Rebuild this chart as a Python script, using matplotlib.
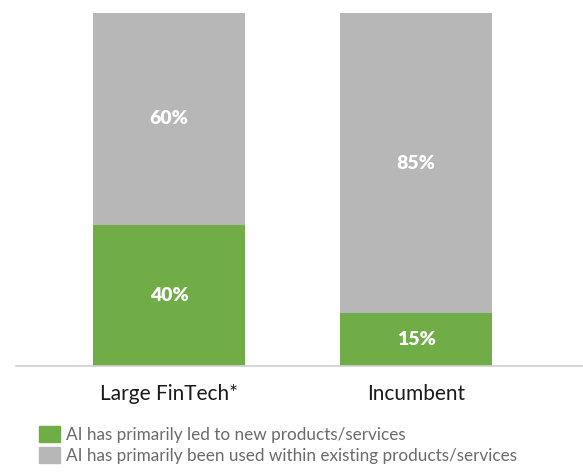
import matplotlib
matplotlib.use("Agg")
import matplotlib.pyplot as plt
from matplotlib.patches import Patch

categories = ["Large FinTech*", "Incumbent"]
new_products = [40, 15]
existing_products = [60, 85]
series_names = ["AI has primarily led to new products/services",
                "AI has primarily been used within existing products/services"]
green = "#70AD47"
gray = "#B7B7B7"

plt.rcParams['font.family'] = ['Lato', 'DejaVu Sans']

fig = plt.figure(figsize=(5.83, 4.72), dpi=100)
ax = fig.add_axes([16/583, 106/472, 567/583, 353/472])

x = [0, 1]
w = 152/247
ax.bar(x, new_products, width=w, color=green)
ax.bar(x, existing_products, width=w, bottom=new_products, color=gray)

for xi, a, b in zip(x, new_products, existing_products):
    ax.text(xi, a/2, f"{a}%", ha="center", va="center", color="white",
            fontsize=14, fontweight="heavy")
    ax.text(xi, a + b/2, f"{b}%", ha="center", va="center", color="white",
            fontsize=14, fontweight="heavy")

ax.set_xlim(-153/247, 1 + 167/247)
ax.set_ylim(0, 100)
for s in ["top", "right", "left"]:
    ax.spines[s].set_visible(False)
ax.spines["bottom"].set_color("#D0D0D0")
ax.spines["bottom"].set_linewidth(1.2)
ax.set_yticks([])
ax.set_xticks(x)
ax.set_xticklabels(categories, fontsize=15, color="#1a1a1a")
ax.tick_params(axis="x", length=0, pad=13)

handles = [Patch(color=green), Patch(color=gray)]
fig.legend(handles, series_names, loc="upper left", bbox_to_anchor=(39/583, 1 - 426/472),
           frameon=False, prop={"size": 12.3}, labelcolor="#6a6a6a",
           handlelength=1.2, handleheight=1.08, handletextpad=0.4,
           labelspacing=0.25, borderpad=0, borderaxespad=0)

fig.savefig("out.png", dpi=100)
